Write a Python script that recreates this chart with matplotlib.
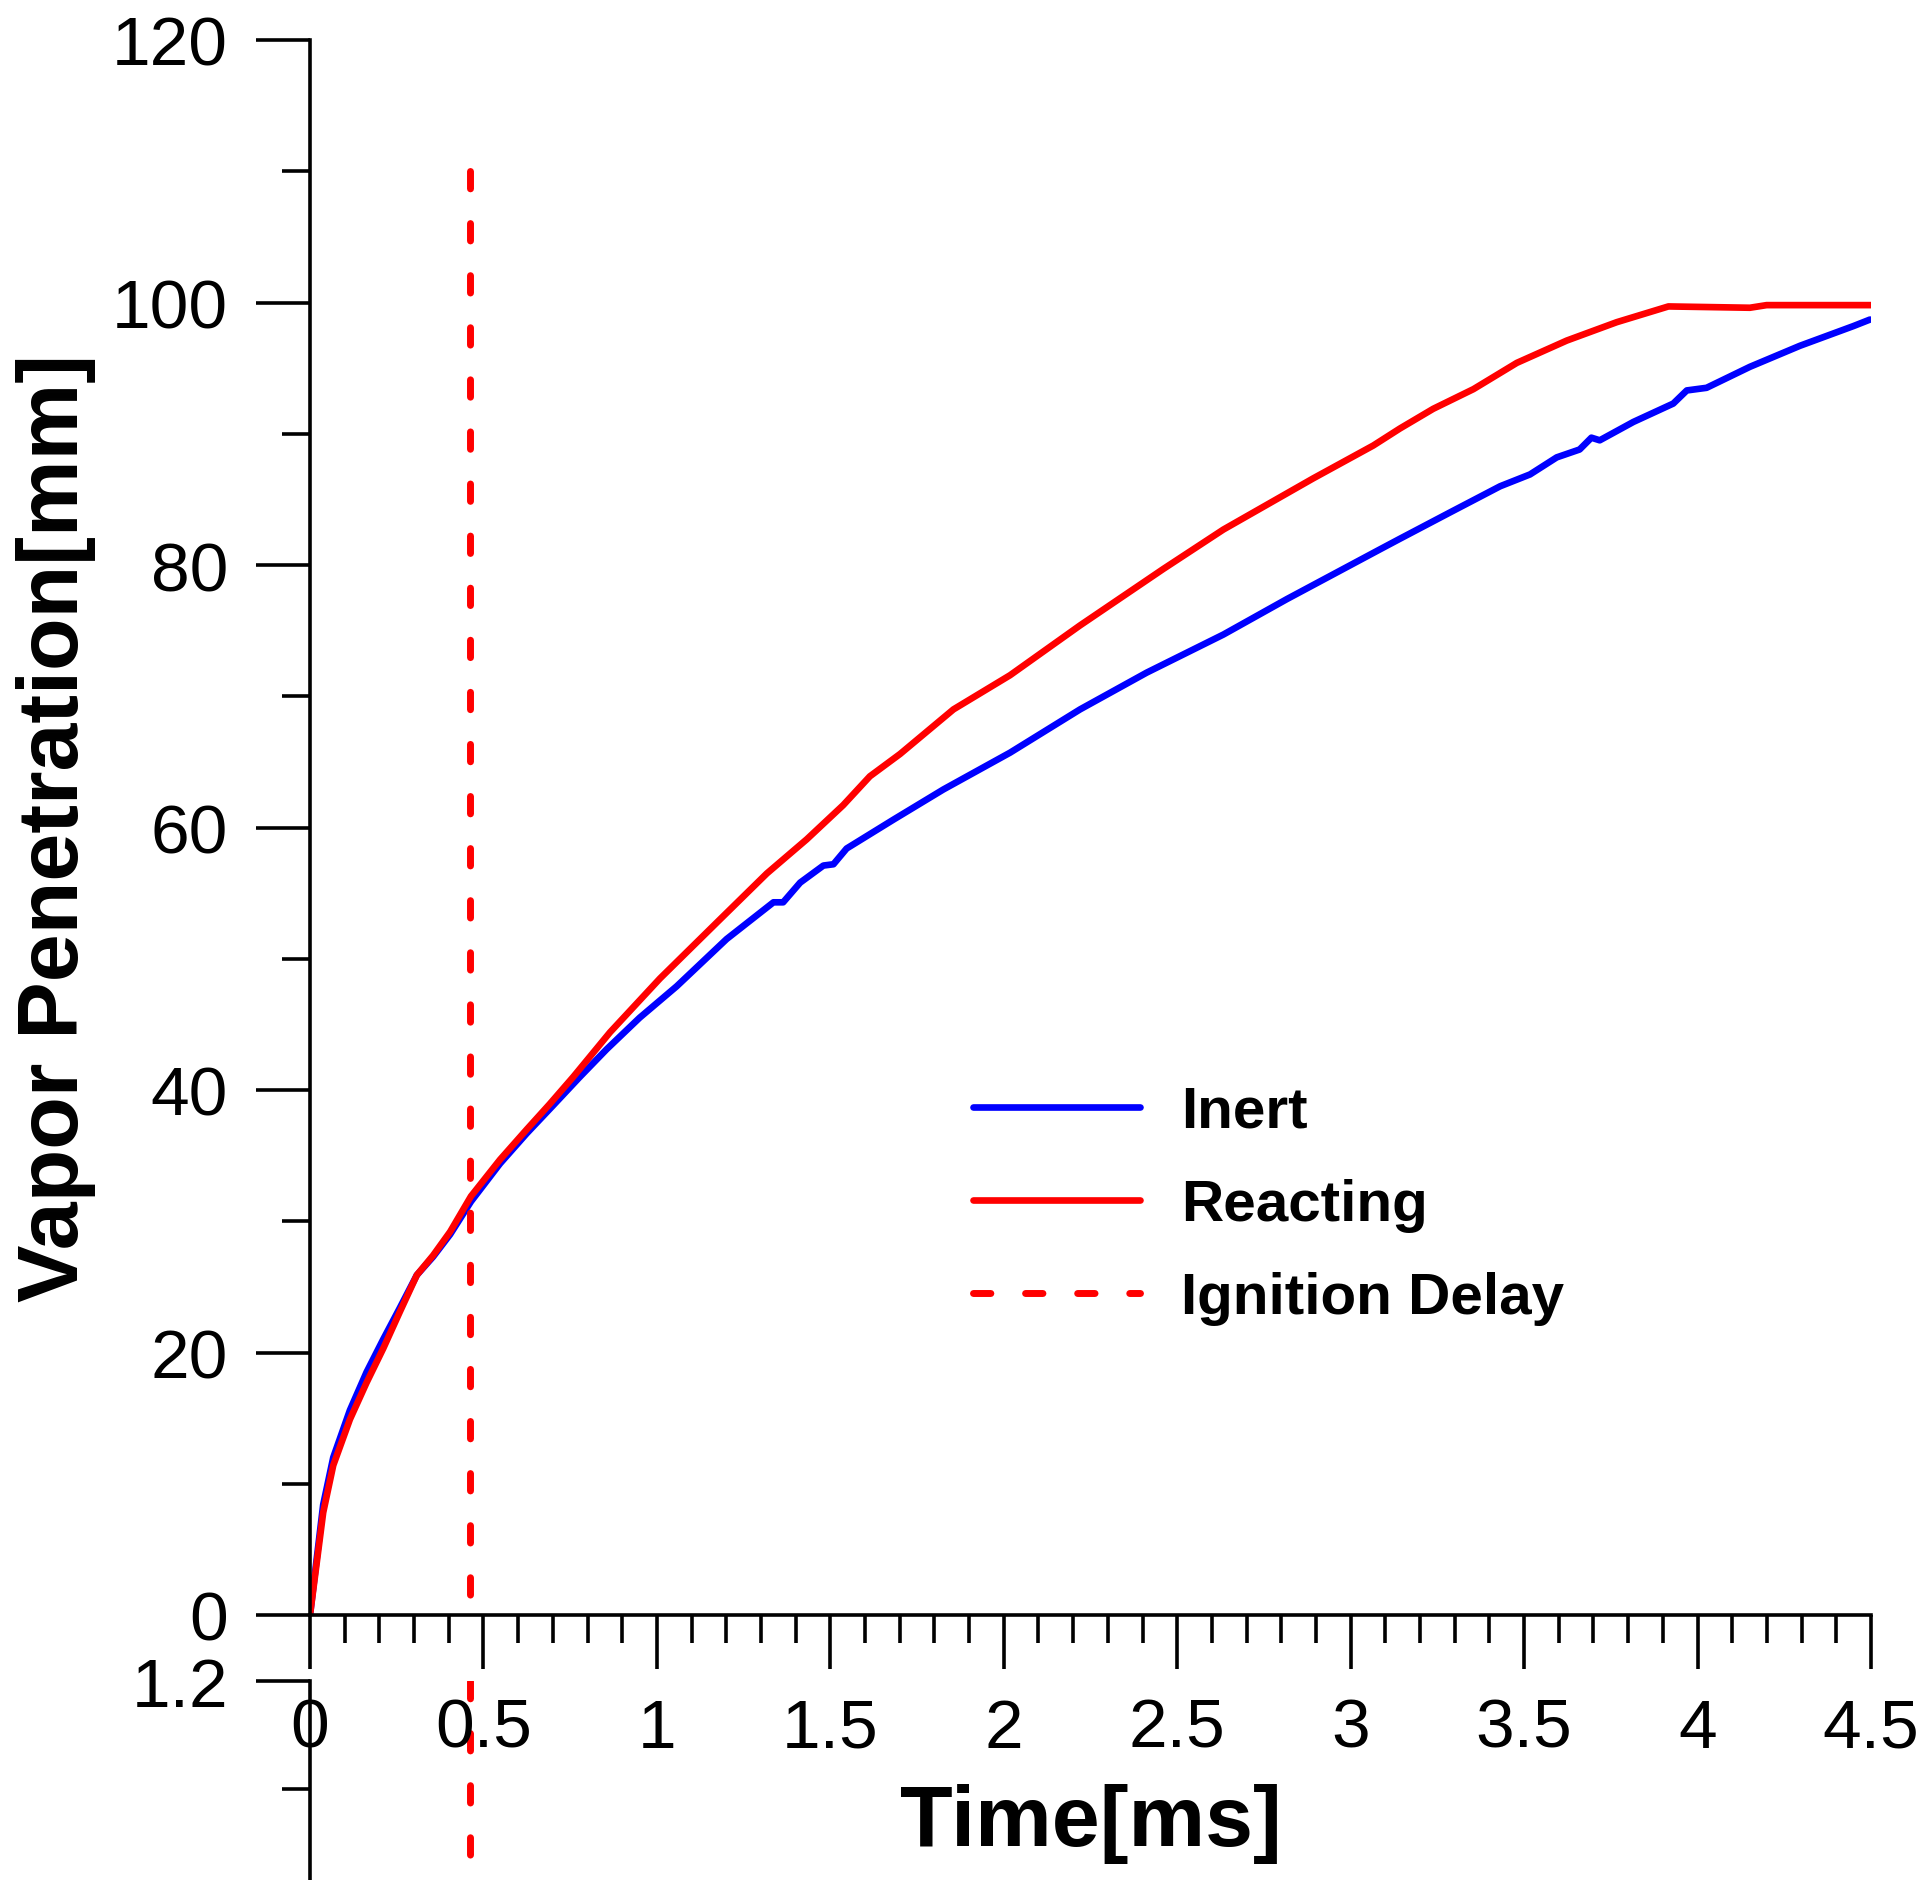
import matplotlib
matplotlib.use("Agg")
import matplotlib.pyplot as plt
from matplotlib.ticker import MultipleLocator, FormatStrFormatter

plt.rcParams['font.family'] = ['Liberation Sans', 'DejaVu Sans']
plt.rcParams['lines.scale_dashes'] = False

# ---- data ----
t_inert = [0.0, 0.038, 0.067, 0.115, 0.163, 0.211, 0.259, 0.308, 0.355, 0.404, 0.464,
           0.548, 0.625, 0.700, 0.778, 0.855, 0.95, 1.057, 1.201, 1.336, 1.364, 1.413,
           1.480, 1.509, 1.547, 1.682, 1.826, 2.018, 2.220, 2.412, 2.633, 2.816, 3.085,
           3.142, 3.286, 3.431, 3.517, 3.594, 3.660, 3.694, 3.718, 3.815, 3.930, 3.969,
           4.026, 4.151, 4.295, 4.449, 4.497]
v_inert = [0.0, 8.4, 12.0, 15.6, 18.5, 21.0, 23.4, 25.9, 27.3, 29.0, 31.5,
           34.4, 36.7, 38.8, 41.0, 43.1, 45.5, 47.9, 51.5, 54.3, 54.3, 55.8,
           57.1, 57.2, 58.4, 60.6, 62.9, 65.7, 69.0, 71.8, 74.7, 77.4, 81.2,
           82.0, 84.0, 86.0, 86.9, 88.2, 88.8, 89.7, 89.5, 90.9, 92.3, 93.3,
           93.5, 95.1, 96.7, 98.2, 98.7]

t_react = [0.0, 0.038, 0.067, 0.115, 0.163, 0.211, 0.259, 0.308, 0.355, 0.404, 0.464,
           0.548, 0.625, 0.690, 0.759, 0.865, 1.009, 1.182, 1.317, 1.432, 1.537, 1.614,
           1.701, 1.855, 2.018, 2.220, 2.460, 2.633, 2.892, 3.065, 3.142, 3.238, 3.354,
           3.479, 3.623, 3.767, 3.916, 4.151, 4.199, 4.502]
v_react = [0.0, 7.8, 11.4, 14.9, 17.7, 20.3, 23.1, 25.9, 27.4, 29.2, 31.9,
           34.7, 37.0, 38.9, 41.0, 44.4, 48.5, 53.0, 56.5, 59.1, 61.7, 63.9,
           65.6, 69.0, 71.6, 75.4, 79.7, 82.7, 86.6, 89.1, 90.4, 91.9, 93.4,
           95.4, 97.1, 98.5, 99.7, 99.6, 99.8, 99.8]

ignition_delay = 0.462
ignition_top = 110

x_ticks = [0, 0.5, 1, 1.5, 2, 2.5, 3, 3.5, 4, 4.5]
x_ticklabels = ['0', '0.5', '1', '1.5', '2', '2.5', '3', '3.5', '4', '4.5']
y_ticks = [0, 20, 40, 60, 80, 100, 120]
lower_yticks = [1.2]

# ---- figure ----
W, H = 1931, 1881
fig = plt.figure(figsize=(W / 100, H / 100), dpi=100)

L, R = 310, 1871
T, B = 41, 1616
ax = fig.add_axes([L / W, 1 - B / H, (R - L) / W, (B - T) / H])
ax.patch.set_visible(False)

lw_axis = 2.6
lw_curve = 4.8
ax.plot(t_inert, v_inert, color='#0000ff', lw=lw_curve, label='Inert',
        solid_capstyle='round', solid_joinstyle='round')
ax.plot(t_react, v_react, color='#ff0000', lw=lw_curve, label='Reacting',
        solid_capstyle='round', solid_joinstyle='round')
dash_style = (0, (12.5, 25))
ax.plot([ignition_delay, ignition_delay], [ignition_top, 0], color='#ff0000', lw=5,
        linestyle=dash_style, dash_capstyle='round', label='Ignition Delay')

ax.set_xlim(0, 4.5)
ax.set_ylim(0, 120)
ax.set_xticks(x_ticks)
ax.set_xticklabels(x_ticklabels)
ax.set_yticks(y_ticks)
ax.xaxis.set_minor_locator(MultipleLocator(0.1))
ax.yaxis.set_minor_locator(MultipleLocator(10))
for s in ['top', 'right']:
    ax.spines[s].set_visible(False)
for s in ['left', 'bottom']:
    ax.spines[s].set_linewidth(lw_axis)
ax.tick_params(which='major', direction='out', length=39, width=lw_axis, labelsize=50, pad=20)
ax.tick_params(which='minor', direction='out', length=20, width=lw_axis)

ax.set_xlabel('Time[ms]', fontsize=62, fontweight='bold')
ax.set_ylabel('Vapor Penetration[mm]', fontsize=62, fontweight='bold')
ax.xaxis.set_label_coords(0.5, (B - 1784) / (B - T))
ax.yaxis.set_label_coords((96 - L) / (R - L), 0.5)

leg = ax.legend(loc='upper left', bbox_to_anchor=(973 / W, 1 - 1086 / H),
                bbox_transform=fig.transFigure, frameon=False, borderpad=0,
                borderaxespad=0, handlelength=2.86, handletextpad=0.7,
                labelspacing=0.67, prop={'weight': 'bold', 'size': 42})

# ---- lower (cropped) panel ----
top2 = 1682
h2 = 1300
ax2 = fig.add_axes([L / W, 1 - (top2 + h2) / H, (R - L) / W, h2 / H])
ax2.patch.set_visible(False)
ax2.set_zorder(0)
ax.set_zorder(1)
ax2.set_xlim(0, 4.5)
ax2.set_ylim(0, 1.2)
ax2.plot([ignition_delay, ignition_delay], [1.2, 0], color='#ff0000', lw=5,
         linestyle=dash_style, dash_capstyle='round')
ax2.set_yticks(lower_yticks)
ax2.yaxis.set_major_formatter(FormatStrFormatter('%.1f'))
ax2.yaxis.set_minor_locator(MultipleLocator(0.1))
for s in ['top', 'right', 'bottom']:
    ax2.spines[s].set_visible(False)
ax2.spines['left'].set_linewidth(lw_axis)
ax2.tick_params(axis='x', which='both', bottom=False, labelbottom=False)
ax2.tick_params(axis='y', which='major', direction='out', length=39, width=lw_axis, labelsize=50, pad=20)
ax2.tick_params(axis='y', which='minor', direction='out', length=20, width=lw_axis)

fig.savefig('out.png', dpi=100)
